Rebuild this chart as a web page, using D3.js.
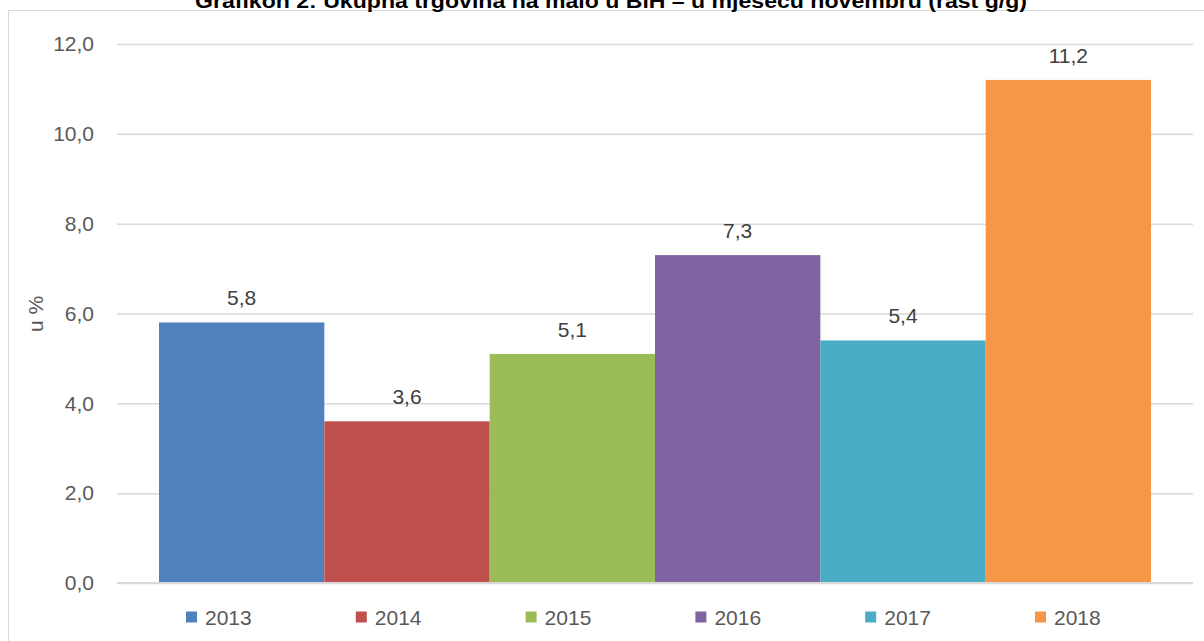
<!DOCTYPE html>
<html>
<head>
<meta charset="utf-8">
<script src="https://cdn.jsdelivr.net/npm/d3@7"></script>
<style>
  body { margin: 0; background: #fff; }
  text { font-family: "Liberation Sans", Arial, sans-serif; }
</style>
</head>
<body>
<div id="chart"></div>
<script>
// data
const years = ["2013", "2014", "2015", "2016", "2017", "2018"]
const growth = [5.8, 3.6, 5.1, 7.3, 5.4, 11.2]
const colors = ["#4F81BD", "#C0504D", "#9BBB59", "#8064A2", "#4BACC6", "#F79646"]
const yTicks = [0, 2, 4, 6, 8, 10, 12]
const title = "Grafikon 2: Ukupna trgovina na malo u BiH – u mjesecu novembru (rast g/g)"

const W = 1204, H = 641
const plot = {left: 117, right: 1193, top: 44, bottom: 583}

const svg = d3.select("#chart").append("svg").attr("width", W).attr("height", H)

// chart border (runs off the right and bottom edges)
svg.append("rect").attr("x", 8.5).attr("y", 10.5).attr("width", 1220).attr("height", 700)
  .attr("fill", "none").attr("stroke", "#d9d9d9").attr("stroke-width", 1)

// title, top is clipped in the original
svg.append("text").attr("x", 611).attr("y", 8)
  .attr("text-anchor", "middle").attr("font-size", 21).attr("font-weight", "bold")
  .attr("textLength", 832).attr("lengthAdjust", "spacingAndGlyphs")
  .attr("fill", "#000").text(title)

//=========================================/
const x = d3.scaleBand().domain(years).range([plot.left, plot.right])
  .paddingInner(0).paddingOuter(0.254)
const y = d3.scaleLinear().domain([0, 12]).range([plot.bottom, plot.top])
const fmt = d3.formatLocale({decimal: ",", thousands: ".", grouping: [3], currency: ["", ""]}).format(".1f")
//=========================================/

// gridlines + y labels
const yAxis = d3.axisLeft(y).tickValues(yTicks).tickFormat(fmt)
  .tickSize(-(plot.right - plot.left)).tickPadding(23)
const ga = svg.append("g").attr("transform", `translate(${plot.left},0)`).call(yAxis)
ga.select(".domain").remove()
ga.selectAll(".tick line").attr("stroke", "#d9d9d9").attr("stroke-width", 1.5)
ga.selectAll(".tick text").attr("font-size", 21).attr("fill", "#595959")
  .attr("font-family", "Liberation Sans, Arial, sans-serif")

svg.append("text").attr("transform", "translate(43,314) rotate(-90)")
  .attr("text-anchor", "middle").attr("font-size", 21).attr("fill", "#595959").text("u %")

// bars
svg.selectAll(".bar").data(years).enter().append("rect").attr("class", "bar")
  .attr("x", d => x(d)).attr("width", x.bandwidth())
  .attr("y", (d, i) => y(growth[i])).attr("height", (d, i) => y(0) - y(growth[i]))
  .attr("fill", (d, i) => colors[i])

// baseline
svg.append("line").attr("x1", plot.left).attr("x2", plot.right)
  .attr("y1", y(0)).attr("y2", y(0)).attr("stroke", "#d9d9d9").attr("stroke-width", 2)

// value labels
svg.selectAll(".lbl").data(years).enter().append("text").attr("class", "lbl")
  .attr("x", d => x(d) + x.bandwidth() / 2).attr("y", (d, i) => y(growth[i]) - 17)
  .attr("text-anchor", "middle").attr("font-size", 21).attr("fill", "#404040")
  .text((d, i) => fmt(growth[i]))

// legend
const lx = d3.scalePoint().domain(years).range([186, 1035])
const lg = svg.selectAll(".leg").data(years).enter().append("g").attr("class", "leg")
  .attr("transform", d => `translate(${lx(d)},617)`)
lg.append("rect").attr("x", 0).attr("y", -5.5).attr("width", 11).attr("height", 11)
  .attr("fill", (d, i) => colors[i])
lg.append("text").attr("x", 19).attr("y", 0).attr("dy", "0.36em")
  .attr("font-size", 21).attr("fill", "#595959").text(d => d)
</script>
</body>
</html>
